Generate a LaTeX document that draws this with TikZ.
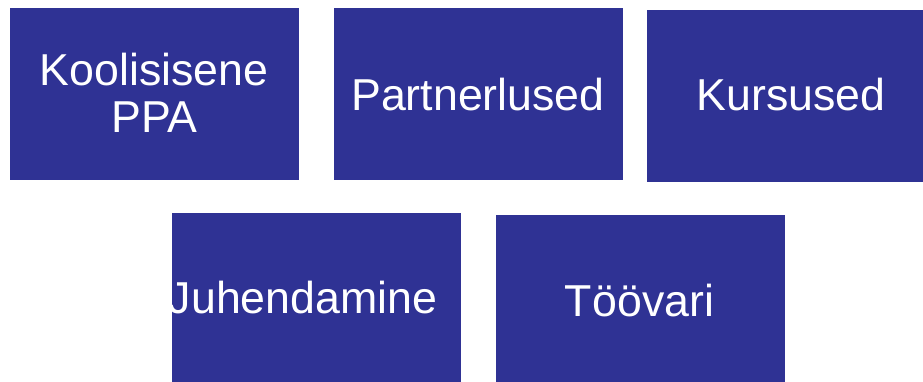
\documentclass[tikz,border=0pt]{standalone}
\usepackage{fontspec}
\setmainfont{Liberation Sans}
\definecolor{boxblue}{RGB}{47,50,148}
\begin{document}
\begin{tikzpicture}[x=1pt,y=-1pt,
  bluebox/.style={fill=boxblue,draw=none,inner sep=0pt,outer sep=0pt,minimum width=289pt},
  lbl/.style={text=white,inner sep=0pt,anchor=base,font=\fontsize{44.7}{48}\selectfont}]
\useasboundingbox (0,0) rectangle (923,381);
\clip (0,0) rectangle (923,381);
\node[bluebox,minimum height=171.7pt] (b1) at (154,94.15) {};
\node[bluebox,minimum height=171.7pt] (b2) at (478,94.15) {};
\node[bluebox,minimum height=171.5pt] (b3) at (791,95.75) {};
\node[bluebox,minimum height=176.7pt] (b4) at (316.5,301.65) {};
\node[bluebox,minimum height=175pt] (b5) at (640,302.5) {};
\node[lbl] (t1a) at (154,85) {Koolisisene};
\node[lbl] (t1b) at (154.5,132.7) {PPA};
\node[lbl] (t2) at (478,110) {Partnerlused};
\node[lbl] (t3) at (791,110) {Kursused};
\node[lbl] (t4) at (303,313.3) {Juhendamine};
\node[lbl] (t5) at (639.5,316.7) {Töövari};
\end{tikzpicture}
\end{document}
